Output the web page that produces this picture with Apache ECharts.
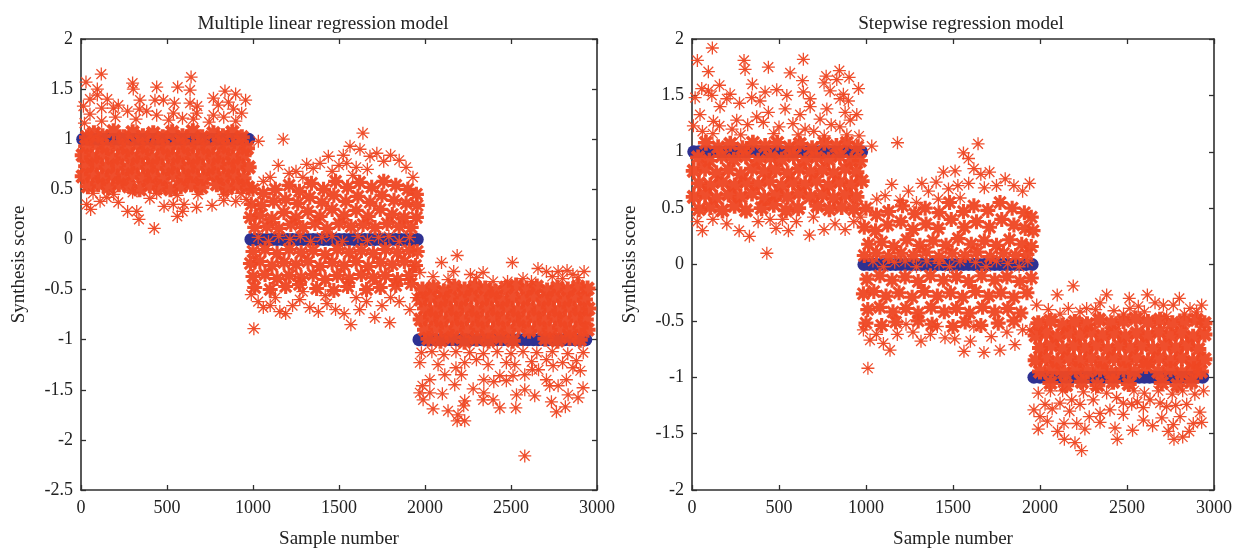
<!DOCTYPE html>
<html>
<head>
<meta charset="utf-8">
<style>
  html, body { margin: 0; padding: 0; background: #fff; }
  #chart { width: 1243px; height: 552px; }
</style>
<script src="https://cdn.jsdelivr.net/npm/echarts@6/dist/echarts.min.js"></script>
</head>
<body>
<div id="chart"></div>
<script>
// target levels: sample numbers where the blue dots sit
const level1Samples = [10,40,70,100,130,160,190,220,250,280,310,340,370,400,430,460,490,520,550,580,610,640,670,700,730,760,790,820,850,880,910,940,975];
const level0Samples = [988,1020,1050,1080,1110,1140,1170,1200,1230,1260,1290,1320,1350,1380,1410,1440,1470,1500,1530,1560,1590,1620,1650,1680,1710,1740,1770,1800,1830,1860,1890,1920,1955];
const levelM1Samples = [1965,2000,2030,2060,2090,2120,2150,2180,2210,2240,2270,2300,2330,2360,2390,2420,2450,2480,2510,2540,2570,2600,2630,2660,2690,2720,2750,2780,2810,2840,2870,2900,2935];

// scores, flat sample,score pairs
const leftLoose = [
  29,1.57, 118,1.65, 95,1.50, 300,1.56, 304,1.50, 440,1.52, 562,1.52, 640,1.62, 634,1.49, 837,1.48, 899,1.45, 770,1.41, 957,1.39, 153,1.40, 52,1.40, 95,1.44,
  343,1.39, 430,1.39, 479,1.39, 543,1.36, 634,1.36, 857,1.37, 217,1.34, 188,1.31, 271,1.28, 120,1.31, 339,1.30, 382,1.28, 537,1.26, 676,1.33, 672,1.26, 798,1.34,
  934,1.26, 886,1.30, 770,1.24, 653,1.20, 440,1.24, 52,1.25, 14,1.33, 200,1.22, 320,1.20, 510,1.19, 590,1.21, 830,1.22, 900,1.18, 120,1.18, 20,1.16, 745,1.17,
  56,0.30, 33,0.35, 271,0.28, 324,0.28, 337,0.20, 426,0.11, 483,0.33, 537,0.35, 560,0.23, 599,0.35, 591,0.28, 672,0.32, 762,0.34, 217,0.37, 111,0.38, 400,0.41, 830,0.39, 900,0.38, 960,0.40, 150,0.42,
  70,0.46, 190,0.45, 300,0.47, 440,0.46, 560,0.44, 680,0.45, 830,0.45, 930,0.46,
  1031,0.98, 1176,1.00, 1147,0.74, 1312,0.75, 1438,0.83, 1525,0.84, 1564,0.93, 1622,0.90, 1639,1.06, 1390,0.76, 1460,0.68, 1350,0.71, 1500,0.74, 1545,0.76, 1600,0.72, 1680,0.83, 1720,0.86, 1760,0.78, 1800,0.84, 1850,0.79, 1890,0.72, 1930,0.62, 1210,0.66, 1250,0.68, 1100,0.62, 1060,0.58, 1665,0.70, 1580,0.64, 1290,0.62,
  1005,-0.89, 1569,-0.85, 1708,-0.78, 1795,-0.83, 1912,-0.70, 1272,-0.60, 1156,-0.72, 1190,-0.74, 1030,-0.62, 1060,-0.68, 1100,-0.66, 1130,-0.58, 1230,-0.66, 1330,-0.68, 1380,-0.72, 1430,-0.64, 1480,-0.70, 1530,-0.74, 1620,-0.70, 1660,-0.62, 1750,-0.66, 1850,-0.62, 1950,-0.58, 1290,-0.52, 1420,-0.56, 1600,-0.58, 1800,-0.58, 990,-0.55,
  1970,-0.33, 1931,-0.27, 2096,-0.23, 2187,-0.16, 2508,-0.23, 2167,-0.32, 2338,-0.33, 2264,-0.35, 2047,-0.37, 2134,-0.40, 2657,-0.29, 2706,-0.32, 2774,-0.32, 2826,-0.31, 2925,-0.32, 2570,-0.39, 2619,-0.42, 2890,-0.38, 2396,-0.42, 2300,-0.38, 2480,-0.42, 2740,-0.37, 2800,-0.39, 2860,-0.35,
  2580,-2.16, 2187,-1.81, 2231,-1.81, 2192,-1.75, 2134,-1.71, 2047,-1.69, 2231,-1.61, 2225,-1.66, 2338,-1.60, 2396,-1.60, 2435,-1.68, 2528,-1.68, 2735,-1.62, 2764,-1.72, 2816,-1.67, 2890,-1.58, 2919,-1.48, 2832,-1.55, 2638,-1.56, 2580,-1.50, 2532,-1.55, 1970,-1.53, 1989,-1.60, 2028,-1.53, 1985,-1.46, 2101,-1.54, 2173,-1.45, 2280,-1.49, 2342,-1.40, 2342,-1.53, 2400,-1.42, 2435,-1.36, 2473,-1.41, 2512,-1.36, 2580,-1.35, 2624,-1.30, 2706,-1.40, 2745,-1.26, 2822,-1.40, 2903,-1.31, 2774,-1.46, 2725,-1.46, 2028,-1.40, 1970,-1.23, 2076,-1.25, 2115,-1.35, 2212,-1.35, 2231,-1.23, 2299,-1.20, 2367,-1.25, 2473,-1.23, 2522,-1.25, 2620,-1.22, 2706,-1.20, 2800,-1.23, 2880,-1.21, 1979,-1.13, 2040,-1.12, 2110,-1.15, 2180,-1.12, 2260,-1.13, 2340,-1.14, 2420,-1.12, 2500,-1.14, 2570,-1.12, 2650,-1.13, 2740,-1.12, 2830,-1.14, 2920,-1.13, 2180,-1.28, 2660,-1.30, 2860,-1.28,
  1030,0.02, 1090,-0.02, 1150,0.03, 1215,0.00, 1275,0.03, 1335,-0.02, 1400,0.02, 1460,0.03, 1520,-0.02, 1610,0.03, 1665,-0.01, 1730,0.02, 1790,0.03, 1850,-0.02, 1910,0.02
];
const leftDenseTop = [
  35,1.02, 75,1.06, 125,1.03, 190,1.08, 250,1.02, 300,1.07, 360,1.03, 420,1.06, 475,1.02, 530,1.07, 590,1.03, 650,1.08, 705,1.02, 770,1.06, 825,1.03, 880,1.07, 935,1.02,
  30,0.93, 95,0.95, 150,0.92, 215,0.94, 270,0.91, 330,0.95, 385,0.92, 445,0.94, 505,0.91, 565,0.95, 625,0.92, 680,0.94, 740,0.91, 800,0.95, 855,0.92, 915,0.94, 965,0.91,
  10,0.84, 65,0.82, 125,0.85, 185,0.81, 240,0.84, 300,0.82, 360,0.85, 415,0.81, 475,0.84, 535,0.82, 595,0.85, 650,0.81, 710,0.84, 770,0.82, 830,0.85, 885,0.81, 945,0.84,
  30,0.73, 90,0.75, 150,0.72, 215,0.74, 270,0.71, 330,0.75, 390,0.72, 445,0.74, 505,0.71, 565,0.75, 625,0.72, 680,0.74, 740,0.71, 800,0.75, 855,0.72, 915,0.74, 975,0.72,
  10,0.63, 65,0.65, 125,0.62, 185,0.64, 240,0.61, 300,0.65, 360,0.62, 415,0.64, 475,0.61, 535,0.65, 595,0.62, 650,0.64, 710,0.61, 770,0.65, 830,0.62, 885,0.64, 945,0.61,
  40,0.53, 100,0.55, 160,0.52, 220,0.55, 280,0.53, 340,0.50, 400,0.54, 460,0.52, 520,0.50, 580,0.53, 640,0.55, 700,0.52, 790,0.55, 850,0.51, 910,0.54, 970,0.52
];
const leftDenseMid = [
  1000,0.50, 1060,0.46, 1130,0.50, 1210,0.54, 1270,0.48, 1340,0.56, 1410,0.50, 1480,0.58, 1550,0.52, 1620,0.57, 1690,0.52, 1760,0.58, 1830,0.54, 1900,0.50, 1950,0.45,
  990,0.35, 1050,0.34, 1120,0.38, 1190,0.40, 1260,0.36, 1330,0.42, 1400,0.37, 1470,0.44, 1540,0.38, 1610,0.43, 1680,0.37, 1750,0.44, 1820,0.39, 1890,0.36, 1955,0.34,
  985,0.22, 1040,0.24, 1110,0.21, 1180,0.27, 1250,0.22, 1320,0.28, 1390,0.23, 1460,0.30, 1530,0.24, 1600,0.29, 1670,0.23, 1740,0.30, 1810,0.25, 1880,0.22, 1950,0.22,
  1010,0.12, 1080,0.13, 1150,0.11, 1220,0.15, 1290,0.12, 1360,0.16, 1430,0.11, 1500,0.16, 1570,0.13, 1640,0.15, 1710,0.12, 1780,0.16, 1850,0.13, 1920,0.12,
  1000,-0.12, 1070,-0.10, 1140,-0.14, 1210,-0.10, 1280,-0.13, 1350,-0.11, 1420,-0.15, 1490,-0.10, 1560,-0.13, 1630,-0.11, 1700,-0.14, 1770,-0.10, 1840,-0.13, 1910,-0.11, 1955,-0.12,
  985,-0.24, 1040,-0.22, 1110,-0.26, 1180,-0.23, 1250,-0.25, 1320,-0.22, 1390,-0.27, 1460,-0.23, 1530,-0.26, 1600,-0.22, 1670,-0.27, 1740,-0.23, 1810,-0.25, 1880,-0.22, 1945,-0.26,
  1000,-0.37, 1070,-0.35, 1140,-0.39, 1210,-0.36, 1280,-0.38, 1350,-0.35, 1420,-0.40, 1490,-0.36, 1560,-0.39, 1630,-0.35, 1700,-0.38, 1770,-0.36, 1840,-0.40, 1910,-0.36,
  1010,-0.48, 1100,-0.50, 1190,-0.47, 1270,-0.45, 1370,-0.49, 1470,-0.51, 1550,-0.47, 1660,-0.50, 1740,-0.48, 1830,-0.46, 1920,-0.44
];
const leftDenseLow = [
  1985,-0.50, 2050,-0.48, 2110,-0.52, 2170,-0.47, 2230,-0.50, 2290,-0.47, 2350,-0.49, 2410,-0.52, 2470,-0.48, 2530,-0.46, 2590,-0.49, 2650,-0.47, 2710,-0.51, 2770,-0.48, 2830,-0.50, 2890,-0.47, 2945,-0.49,
  1975,-0.60, 2030,-0.58, 2090,-0.61, 2150,-0.58, 2210,-0.60, 2270,-0.57, 2330,-0.60, 2390,-0.58, 2450,-0.61, 2510,-0.58, 2570,-0.60, 2630,-0.57, 2690,-0.60, 2750,-0.58, 2810,-0.61, 2870,-0.58, 2930,-0.60,
  2000,-0.69, 2060,-0.71, 2120,-0.68, 2180,-0.70, 2240,-0.68, 2300,-0.71, 2360,-0.68, 2420,-0.70, 2480,-0.68, 2540,-0.71, 2600,-0.68, 2660,-0.70, 2720,-0.68, 2780,-0.71, 2840,-0.68, 2900,-0.70, 2950,-0.69,
  1975,-0.80, 2035,-0.78, 2095,-0.81, 2155,-0.78, 2215,-0.80, 2275,-0.78, 2335,-0.81, 2395,-0.78, 2455,-0.80, 2515,-0.78, 2575,-0.81, 2635,-0.78, 2695,-0.80, 2755,-0.78, 2815,-0.81, 2875,-0.78, 2935,-0.80,
  2000,-0.90, 2065,-0.88, 2125,-0.91, 2185,-0.88, 2245,-0.90, 2305,-0.88, 2365,-0.91, 2425,-0.88, 2485,-0.90, 2545,-0.87, 2605,-0.91, 2665,-0.88, 2725,-0.90, 2785,-0.88, 2845,-0.91, 2905,-0.88, 2945,-0.90,
  2020,-0.99, 2090,-1.01, 2160,-0.98, 2230,-1.02, 2300,-0.99, 2370,-1.01, 2440,-0.98, 2510,-1.01, 2700,-0.99, 2770,-1.01, 2840,-0.98, 2900,-1.00
];
const rightLoose = [
  117,1.92, 31,1.81, 94,1.71, 299,1.81, 305,1.73, 439,1.75, 640,1.82, 564,1.70, 635,1.63, 640,1.53, 771,1.67, 832,1.64, 847,1.72, 903,1.66, 957,1.56, 759,1.61, 794,1.54, 870,1.51, 347,1.60, 158,1.59, 56,1.56, 18,1.48, 94,1.54, 219,1.51, 200,1.47, 114,1.50, 343,1.48, 420,1.53, 487,1.55, 391,1.45, 545,1.50, 679,1.47, 679,1.40, 899,1.45, 851,1.47, 161,1.40, 273,1.43, 535,1.38, 775,1.38, 880,1.35, 947,1.33, 46,1.33, 439,1.35, 621,1.33, 123,1.27, 257,1.28, 372,1.31, 158,1.23, 909,1.28, 736,1.29, 8,1.23,
  320,1.24, 410,1.26, 500,1.22, 580,1.25, 650,1.20, 800,1.24, 850,1.22, 700,1.18, 60,1.18, 230,1.20, 960,1.14, 120,1.16, 280,1.15, 470,1.16, 610,1.15, 760,1.14, 890,1.15,
  60,0.30, 271,0.30, 330,0.25, 430,0.10, 483,0.32, 554,0.30, 675,0.26, 759,0.31, 880,0.31, 698,0.42, 200,0.36, 449,0.40, 822,0.36, 30,0.38, 120,0.40, 380,0.38, 600,0.38, 930,0.38, 520,0.40, 970,0.42,
  1033,1.05, 1181,1.08, 1560,0.99, 1589,0.94, 1644,1.07, 1445,0.82, 1512,0.83, 1148,0.71, 1321,0.72, 1403,0.73, 1528,0.70, 1474,0.67, 1359,0.65, 1244,0.65, 1541,0.59, 1110,0.61, 1062,0.58, 1416,0.58, 1196,0.57, 1620,0.85, 1660,0.80, 1710,0.82, 1750,0.70, 1800,0.76, 1850,0.70, 1900,0.65, 1940,0.72, 1590,0.72, 1680,0.68, 1290,0.55,
  1011,-0.92, 1563,-0.77, 1678,-0.78, 1770,-0.76, 1942,-0.58, 1138,-0.76, 1316,-0.68, 1023,-0.67, 1454,-0.65, 1230,-0.53, 1856,-0.71, 1060,-0.62, 1100,-0.70, 1180,-0.62, 1270,-0.60, 1370,-0.62, 1510,-0.66, 1600,-0.68, 1720,-0.64, 1810,-0.60, 1900,-0.58, 985,-0.58, 1620,-0.55, 1410,-0.55,
  2191,-0.19, 2099,-0.27, 2383,-0.27, 2617,-0.27, 2513,-0.30, 2801,-0.30, 2929,-0.36, 2709,-0.36, 2661,-0.34, 2565,-0.37, 2517,-0.39, 2425,-0.41, 2345,-0.34, 2268,-0.39, 2163,-0.39, 2115,-0.44, 2048,-0.40, 1981,-0.36, 2766,-0.36, 2862,-0.39, 2728,-0.46, 2230,-0.42, 2320,-0.40, 2480,-0.44, 2600,-0.42, 2830,-0.44, 2900,-0.42,
  2239,-1.65, 2201,-1.58, 2140,-1.55, 2101,-1.48, 1990,-1.46, 1965,-1.29, 2042,-1.39, 2029,-1.24, 2000,-1.35, 2138,-1.41, 2211,-1.41, 2258,-1.46, 2230,-1.24, 2283,-1.35, 2345,-1.32, 2345,-1.40, 2402,-1.29, 2431,-1.45, 2444,-1.55, 2479,-1.33, 2527,-1.24, 2532,-1.47, 2594,-1.38, 2647,-1.43, 2594,-1.27, 2690,-1.23, 2737,-1.48, 2770,-1.55, 2820,-1.53, 2858,-1.48, 2805,-1.35, 2919,-1.31, 2929,-1.40, 2881,-1.41, 2766,-1.42, 2843,-1.24, 2728,-1.26, 2632,-1.20, 2479,-1.23, 2306,-1.20, 2182,-1.20, 2115,-1.23, 1990,-1.14, 2383,-1.14,
  2060,-1.12, 2130,-1.12, 2250,-1.13, 2320,-1.10, 2440,-1.18, 2540,-1.12, 2600,-1.14, 2680,-1.12, 2760,-1.15, 2820,-1.12, 2890,-1.15, 2940,-1.12, 2700,-1.36, 2070,-1.28, 2170,-1.30, 2560,-1.22, 2780,-1.25,
  1040,0.03, 1100,-0.02, 1165,0.02, 1225,0.03, 1290,-0.02, 1350,0.03, 1420,0.01, 1480,-0.02, 1540,0.03, 1630,0.02, 1690,-0.02, 1750,0.03, 1815,0.01, 1880,-0.02, 1930,0.03
];
const rightDenseTop = [
  80,1.08, 150,1.04, 220,1.07, 290,1.03, 350,1.08, 420,1.05, 490,1.08, 560,1.04, 620,1.07, 690,1.03, 760,1.08, 830,1.05, 890,1.08, 950,1.04,
  35,0.95, 100,0.92, 170,0.96, 240,0.93, 310,0.96, 380,0.92, 450,0.95, 515,0.93, 585,0.96, 650,0.92, 715,0.95, 785,0.93, 850,0.96, 915,0.92, 965,0.92,
  10,0.83, 75,0.85, 140,0.81, 210,0.84, 280,0.80, 345,0.85, 415,0.82, 480,0.84, 550,0.81, 615,0.85, 680,0.82, 750,0.84, 815,0.81, 880,0.85, 945,0.82,
  40,0.72, 105,0.70, 175,0.73, 245,0.70, 310,0.73, 380,0.71, 445,0.74, 515,0.70, 580,0.73, 650,0.71, 715,0.74, 785,0.70, 850,0.73, 915,0.71, 975,0.74,
  10,0.60, 75,0.62, 140,0.59, 210,0.62, 280,0.60, 345,0.63, 415,0.59, 480,0.62, 550,0.60, 615,0.63, 680,0.60, 750,0.62, 815,0.59, 880,0.62, 945,0.60,
  40,0.49, 105,0.51, 175,0.48, 245,0.52, 310,0.48, 400,0.50, 470,0.53, 540,0.48, 610,0.50, 720,0.52, 790,0.49, 860,0.51, 930,0.49
];
const rightDenseMid = [
  1000,0.50, 1060,0.44, 1130,0.47, 1210,0.52, 1280,0.45, 1340,0.50, 1420,0.46, 1480,0.55, 1560,0.47, 1620,0.52, 1700,0.48, 1770,0.55, 1840,0.50, 1910,0.46, 1950,0.42,
  990,0.33, 1055,0.30, 1125,0.35, 1200,0.38, 1270,0.31, 1345,0.36, 1415,0.32, 1490,0.40, 1565,0.33, 1635,0.38, 1710,0.33, 1780,0.40, 1850,0.35, 1915,0.32, 1960,0.30,
  1015,0.18, 1090,0.20, 1160,0.16, 1235,0.22, 1310,0.17, 1385,0.21, 1460,0.17, 1530,0.23, 1605,0.18, 1680,0.21, 1750,0.17, 1825,0.22, 1895,0.18, 1950,0.16,
  990,0.08, 1060,0.10, 1130,0.07, 1200,0.10, 1275,0.08, 1345,0.11, 1420,0.07, 1495,0.10, 1570,0.08, 1640,0.11, 1715,0.07, 1790,0.10, 1860,0.08, 1925,0.09,
  1005,-0.13, 1080,-0.10, 1150,-0.14, 1225,-0.11, 1300,-0.15, 1370,-0.10, 1445,-0.14, 1520,-0.11, 1590,-0.15, 1665,-0.10, 1740,-0.14, 1810,-0.11, 1885,-0.15, 1950,-0.12,
  985,-0.26, 1045,-0.24, 1115,-0.28, 1190,-0.25, 1265,-0.29, 1335,-0.24, 1410,-0.28, 1485,-0.25, 1555,-0.29, 1630,-0.24, 1705,-0.28, 1775,-0.25, 1850,-0.29, 1925,-0.25,
  1010,-0.40, 1080,-0.38, 1155,-0.42, 1230,-0.39, 1300,-0.43, 1375,-0.38, 1450,-0.42, 1520,-0.39, 1595,-0.43, 1670,-0.38, 1740,-0.42, 1815,-0.39, 1890,-0.43,
  1000,-0.52, 1090,-0.54, 1170,-0.51, 1300,-0.50, 1380,-0.53, 1500,-0.55, 1570,-0.51, 1660,-0.54, 1760,-0.52, 1850,-0.50
];
const rightDenseLow = [
  1990,-0.52, 2060,-0.50, 2130,-0.54, 2200,-0.51, 2270,-0.53, 2340,-0.49, 2410,-0.52, 2480,-0.50, 2550,-0.48, 2620,-0.51, 2690,-0.49, 2760,-0.52, 2830,-0.50, 2900,-0.49, 2945,-0.52,
  1975,-0.63, 2035,-0.61, 2100,-0.64, 2165,-0.61, 2230,-0.63, 2295,-0.60, 2360,-0.63, 2425,-0.61, 2490,-0.64, 2555,-0.61, 2620,-0.63, 2685,-0.60, 2750,-0.63, 2815,-0.61, 2880,-0.64, 2945,-0.62,
  2000,-0.74, 2065,-0.72, 2130,-0.75, 2195,-0.72, 2260,-0.74, 2325,-0.72, 2390,-0.75, 2455,-0.72, 2520,-0.74, 2585,-0.72, 2650,-0.75, 2715,-0.72, 2780,-0.74, 2845,-0.72, 2910,-0.75,
  1975,-0.85, 2035,-0.83, 2100,-0.86, 2165,-0.83, 2230,-0.85, 2295,-0.83, 2360,-0.86, 2425,-0.83, 2490,-0.85, 2555,-0.83, 2620,-0.86, 2685,-0.83, 2750,-0.85, 2815,-0.83, 2880,-0.86, 2945,-0.84,
  2000,-0.95, 2070,-0.93, 2140,-0.96, 2205,-0.93, 2275,-0.95, 2345,-0.93, 2410,-0.96, 2480,-0.93, 2545,-0.95, 2610,-0.90, 2680,-0.95, 2750,-0.93, 2815,-0.96, 2885,-0.93, 2925,-0.95,
  2060,-1.05, 2150,-1.07, 2240,-1.04, 2330,-1.07, 2420,-1.04, 2510,-1.06, 2700,-1.05, 2790,-1.07, 2870,-1.04
];

const panelTitles = ['Multiple linear regression model', 'Stepwise regression model'];
const xLabel = 'Sample number';
const yLabel = 'Synthesis score';

const serifFont = '"Liberation Serif", serif';
const inkColor = '#2f2f2f';
const starColor = '#ee4723';
const dotColor = '#2e3192';

// eight-armed asterisk, w = arm width on a 24 unit box
function starPath(w) {
  const h = w / 2;
  const o = w * 0.3536;
  const a = 3;
  const b = 21;
  const lo = 12 - h;
  const hi = 12 + h;
  return 'path://'
    + `M${lo} 0L${hi} 0L${hi} 24L${lo} 24Z`
    + `M0 ${lo}L24 ${lo}L24 ${hi}L0 ${hi}Z`
    + `M${a - o} ${a + o}L${a + o} ${a - o}L${b + o} ${b - o}L${b - o} ${b + o}Z`
    + `M${b - o} ${a - o}L${b + o} ${a + o}L${a + o} ${b + o}L${a - o} ${b - o}Z`;
}

function toPairs(flat) {
  const out = [];
  for (let i = 0; i < flat.length; i += 2) {
    out.push([flat[i], flat[i + 1]]);
  }
  return out;
}

function levelDots() {
  return [
    ...level1Samples.map((s) => [s, 1]),
    ...level0Samples.map((s) => [s, 0]),
    ...levelM1Samples.map((s) => [s, -1]),
  ];
}

const axisLine = { show: true, onZero: false, lineStyle: { color: inkColor, width: 1.6 } };
const axisTick = { show: true, inside: true, length: 5, lineStyle: { color: inkColor, width: 1.3 } };

function xAxes(gridIndex) {
  const base = { type: 'value', gridIndex, min: 0, max: 3000, interval: 500, splitLine: { show: false }, axisLine, axisTick };
  return [
    { ...base, position: 'bottom', name: xLabel, nameLocation: 'middle', nameGap: 40,
      nameTextStyle: { color: '#222', fontFamily: serifFont, fontSize: 19 },
      axisLabel: { color: '#222', fontFamily: serifFont, fontSize: 18, margin: 9, formatter: (v) => String(v) } },
    { ...base, position: 'top', axisLabel: { show: false } },
  ];
}

function yAxes(gridIndex, min) {
  const base = { type: 'value', gridIndex, min, max: 2, interval: 0.5, splitLine: { show: false }, axisLine, axisTick };
  return [
    { ...base, position: 'left', name: yLabel, nameLocation: 'middle', nameGap: 52,
      nameTextStyle: { color: '#222', fontFamily: serifFont, fontSize: 19 },
      axisLabel: { color: '#222', fontFamily: serifFont, fontSize: 18, margin: 8 } },
    { ...base, position: 'right', axisLabel: { show: false } },
  ];
}

function panelSeries(axisOffset, loose, top, mid, low, topArm) {
  const common = { type: 'scatter', xAxisIndex: axisOffset, yAxisIndex: axisOffset, silent: true, animation: false };
  const stars = (data, arm, size, z) => ({
    ...common, data: toPairs(data), symbol: starPath(arm), symbolSize: size,
    itemStyle: { color: starColor, opacity: 0.96 }, z,
  });
  return [
    { ...common, data: levelDots(), symbol: 'circle', symbolSize: 13, itemStyle: { color: dotColor, opacity: 1 }, z: 2 },
    stars(top, topArm, 16, 3),
    stars(mid, 5, 15, 3),
    stars(low, 6, 16, 3),
    stars(loose, 2.4, 13, 4),
  ];
}

const chart = echarts.init(document.getElementById('chart'), null, { renderer: 'canvas' });
chart.setOption({
  backgroundColor: '#fff',
  animation: false,
  title: panelTitles.map((text, i) => ({
    text,
    left: i === 0 ? 318 : 956,
    top: 9,
    textAlign: 'center',
    textStyle: { color: '#222', fontFamily: serifFont, fontSize: 19.2, fontWeight: 'normal' },
  })),
  grid: [
    { left: 81, top: 39, width: 516, height: 451, outerBoundsMode: 'none' },
    { left: 692, top: 39, width: 522, height: 451, outerBoundsMode: 'none' },
  ],
  xAxis: [...xAxes(0), ...xAxes(1)],
  yAxis: [...yAxes(0, -2.5), ...yAxes(1, -2)],
  series: [
    ...panelSeries(0, leftLoose, leftDenseTop, leftDenseMid, leftDenseLow, 6),
    ...panelSeries(2, rightLoose, rightDenseTop, rightDenseMid, rightDenseLow, 5.5),
  ],
});
</script>
</body>
</html>
